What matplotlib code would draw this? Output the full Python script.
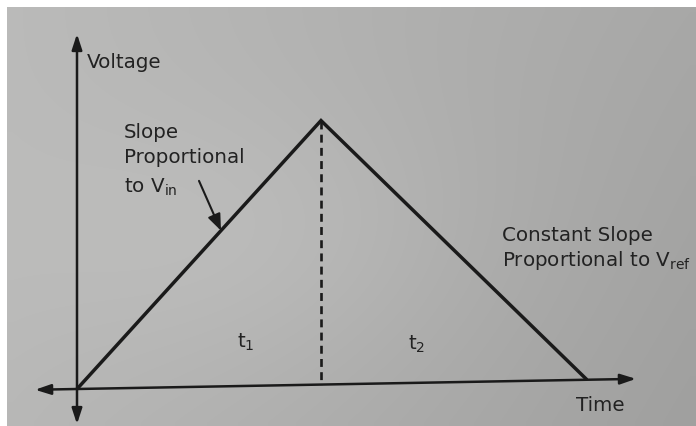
import matplotlib
matplotlib.use('Agg')
import matplotlib.pyplot as plt
import matplotlib.transforms as mtransforms
import numpy as np

# dual-slope integrator output: run-up during t1, run-down during t2
t1 = 1.0
t2 = 1.09
v_peak = 1.0
ramp_t = [0.0, t1, t1 + t2]
ramp_v = [0.0, v_peak, 0.0]

# axis extents in the same units
x_axis = (-0.172, 2.291)
y_axis = (-0.133, 1.345)

W, H = 696, 427
OX, OY = 77, 390          # axis crossing, pixels from top-left
XSCALE, YSCALE = 244, 264  # pixels per unit
TILT = 10 / 551            # the sheet is not quite square to the camera
ink = '#1a1a1a'
text_ink = '#222222'

fig = plt.figure(figsize=(W / 100, H / 100), dpi=100)
fig.patch.set_facecolor('white')

# grey paper, a bit darker towards the right
bg = fig.add_axes([7 / W, 0, 1 - 7 / W, 1 - 8 / H])
bg.axis('off')
gx, gy = np.meshgrid(np.linspace(0, 1, 60), np.linspace(0, 1, 60))
tl, tr_, bl, br = 186, 168, 183, 160
shade = (tl * (1 - gx) * (1 - gy) + tr_ * gx * (1 - gy)
         + bl * (1 - gx) * gy + br * gx * gy)
shade = shade + 9 * np.exp(-((gx - 0.35) ** 2 + (gy - 0.55) ** 2) / 0.12)
bg.imshow(np.dstack([shade, shade, shade - 1]) / 255, aspect='auto',
          extent=[0, 1, 0, 1], interpolation='bilinear')

ax = fig.add_axes([0, 0, 1, 1])
ax.set_xlim(-OX / XSCALE, (W - OX) / XSCALE)
ax.set_ylim(-(H - OY) / YSCALE, OY / YSCALE)
ax.axis('off')
ax.patch.set_alpha(0)

# shear in display space around the origin so the time axis rises slightly
oy_disp = H - OY
tr = ax.transData + (mtransforms.Affine2D()
                     .translate(-OX, -oy_disp)
                     .skew(0, np.arctan(TILT))
                     .translate(OX, oy_disp))

# axes with arrowheads at both ends
axis_arrow = dict(arrowstyle='<|-|>,head_length=0.55,head_width=0.18',
                  color=ink, lw=1.8, mutation_scale=17,
                  shrinkA=0, shrinkB=0)
ax.annotate('', xy=(x_axis[0], 0), xytext=(x_axis[1], 0),
            xycoords=tr, textcoords=tr, arrowprops=axis_arrow)
ax.annotate('', xy=(0, y_axis[1]), xytext=(0, y_axis[0]),
            xycoords=tr, textcoords=tr, arrowprops=axis_arrow)

# the ramp and the t1/t2 divider
ax.plot(ramp_t, ramp_v, color=ink, lw=2.5, transform=tr,
        solid_joinstyle='miter', solid_capstyle='butt')
ax.plot([t1, t1], [v_peak, 0], color=ink, lw=1.9, ls=(0, (3, 2)),
        transform=tr)

# pointer to the run-up slope
ax.annotate('', xy=(0.59, 0.59), xytext=(0.5, 0.78),
            xycoords=tr, textcoords=tr,
            arrowprops=dict(arrowstyle='-|>,head_length=0.55,head_width=0.22',
                            color=ink, lw=1.5, mutation_scale=18,
                            shrinkA=0, shrinkB=0))


def at(x, y):
    return x / W, 1 - y / H


style = dict(fontsize=14.3, color=text_ink, family='DejaVu Sans',
             va='baseline', ha='left')
fig.text(*at(87, 68), 'Voltage', **style)
fig.text(*at(124, 138), 'Slope', **style)
fig.text(*at(124, 163), 'Proportional', **style)
fig.text(*at(124, 193), r'to V$_\mathregular{in}$', **style)
fig.text(*at(502, 241), 'Constant Slope', **style)
fig.text(*at(502, 266), r'Proportional to V$_\mathregular{ref}$', **style)
fig.text(*at(237, 348), r't$_\mathregular{1}$', **style)
fig.text(*at(408, 350), r't$_\mathregular{2}$', **style)
fig.text(*at(576, 411), 'Time', **style)

fig.savefig('out.png', dpi=100)
